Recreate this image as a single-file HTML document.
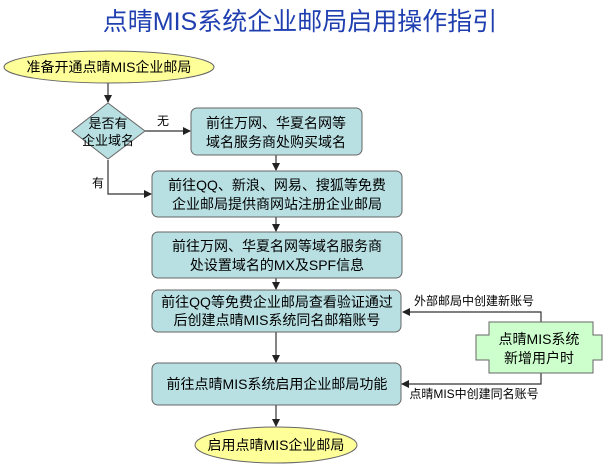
<!DOCTYPE html>
<html><head><meta charset="utf-8"><style>body{margin:0;background:#fff}svg{display:block}text{font-family:"Liberation Sans","Noto Sans CJK SC",sans-serif}</style></head><body>
<svg width="612" height="469" viewBox="0 0 612 469" xmlns="http://www.w3.org/2000/svg">
<defs><marker id="a" markerWidth="8" markerHeight="8" refX="7" refY="4" orient="auto" markerUnits="userSpaceOnUse"><path d="M0,0 L8,4 L0,8 z" fill="#222"/></marker></defs>
<text x="300" y="30" text-anchor="middle" font-size="25" fill="#1f3fb0">点晴MIS系统企业邮局启用操作指引</text>
<g stroke="#333" stroke-width="1.2" fill="none">
<line x1="108" y1="83" x2="108" y2="102" marker-end="url(#a)"/>
<line x1="145" y1="131" x2="190" y2="131" marker-end="url(#a)"/>
<polyline points="108,160 108,194 151,194" marker-end="url(#a)"/>
<line x1="276" y1="155" x2="276" y2="170" marker-end="url(#a)"/>
<line x1="276" y1="217" x2="276" y2="231" marker-end="url(#a)"/>
<line x1="276" y1="278" x2="276" y2="289" marker-end="url(#a)"/>
<line x1="276" y1="332" x2="276" y2="362" marker-end="url(#a)"/>
<line x1="276" y1="405" x2="276" y2="426" marker-end="url(#a)"/>
<polyline points="541,322 541,312 403,312" marker-end="url(#a)"/>
<polyline points="541,373 541,384 402,384" marker-end="url(#a)"/>
</g>
<ellipse cx="109" cy="67" rx="105" ry="16" fill="#ffff99" stroke="#666"/>
<text x="109" y="72" text-anchor="middle" font-size="14">准备开通点晴MIS企业邮局</text>
<polygon points="108,103 145,131 108,159 72,131" fill="#b8dfe2" stroke="#666"/>
<text x="108" y="128" text-anchor="middle" font-size="13">是否有</text>
<text x="108" y="145" text-anchor="middle" font-size="13">企业域名</text>
<text x="163" y="125" text-anchor="middle" font-size="12">无</text>
<text x="98" y="187" text-anchor="middle" font-size="12">有</text>
<g fill="#b8dfe2" stroke="#666">
<rect x="191" y="108" width="171" height="47" rx="6"/>
<rect x="152" y="171" width="250" height="46" rx="6"/>
<rect x="152" y="232" width="250" height="46" rx="6"/>
<rect x="152" y="290" width="249" height="42" rx="6"/>
<rect x="152" y="363" width="249" height="42" rx="6"/>
</g>
<g font-size="14" text-anchor="middle">
<text x="276" y="128">前往万网、华夏名网等</text>
<text x="276" y="147">域名服务商处购买域名</text>
<text x="277" y="190">前往QQ、新浪、网易、搜狐等免费</text>
<text x="277" y="209">企业邮局提供商网站注册企业邮局</text>
<text x="277" y="251">前往万网、华夏名网等域名服务商</text>
<text x="277" y="270">处设置域名的MX及SPF信息</text>
<text x="277" y="307">前往QQ等免费企业邮局查看验证通过</text>
<text x="277" y="325">后创建点晴MIS系统同名邮箱账号</text>
<text x="277" y="389">前往点晴MIS系统启用企业邮局功能</text>
</g>
<ellipse cx="276" cy="445" rx="81" ry="18" fill="#ffff99" stroke="#666"/>
<text x="276" y="450" text-anchor="middle" font-size="14">启用点晴MIS企业邮局</text>
<polygon points="489,322 593,322 593,335 602,335 602,360 593,360 593,373 489,373 489,360 476,360 476,335 489,335" fill="#ccffcc" stroke="#666"/>
<text x="539" y="344" text-anchor="middle" font-size="14">点晴MIS系统</text>
<text x="539" y="363" text-anchor="middle" font-size="14">新增用户时</text>
<text x="474" y="305" text-anchor="middle" font-size="12">外部邮局中创建新账号</text>
<text x="474" y="398" text-anchor="middle" font-size="12">点晴MIS中创建同名账号</text>
</svg>
</body></html>
